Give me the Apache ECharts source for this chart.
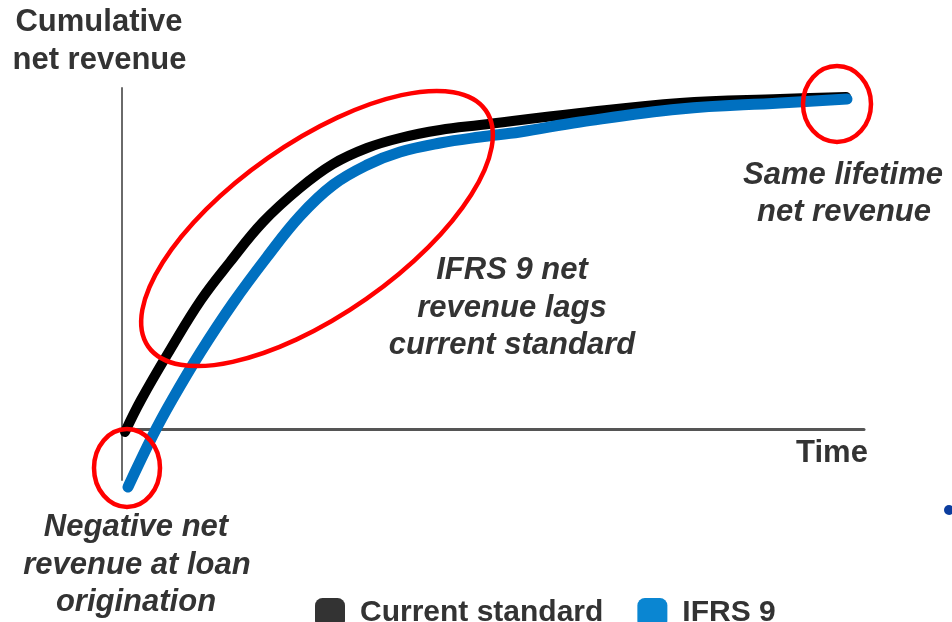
<!DOCTYPE html>
<html>
<head>
<meta charset="utf-8">
<script src="https://cdn.jsdelivr.net/npm/echarts@6/dist/echarts.min.js"></script>
<style>html,body{margin:0;padding:0;background:#fff;}#c{width:952px;height:622px;}</style>
</head>
<body>
<div id="c"></div>
<script>
// Time (x) and cumulative net revenue (y) (arbitrary units)
const seriesNames = ['Current standard', 'IFRS 9'];
const currentTime    = [3, 19, 48, 79, 108, 141, 178, 211, 245, 278, 318, 358, 458, 558, 658, 724];
const currentRevenue = [-3, 29, 79, 129, 167, 207, 241, 265, 281, 291, 299, 304, 316, 326, 330, 332];
const ifrsTime    = [6, 31, 50, 78, 111, 145, 178, 211, 245, 278, 318, 358, 398, 458, 558, 658, 725];
const ifrsRevenue = [-58, -6, 29, 76, 126, 172, 213, 244, 264, 277, 286, 292, 297, 307, 320, 326, 330];
const axisNames = ['Time', 'Cumulative\nnet revenue'];

const FONT = '"Liberation Sans", Arial, sans-serif';
const zip = (a, b) => a.map((v, i) => [v, b[i]]);

function txt(text, x, baseline, italic) {
  return {
    type: 'text', z: 100,
    style: {
      text: text, x: x, y: baseline - 10,
      font: (italic ? 'italic ' : '') + 'bold 31px ' + FONT,
      fill: '#333333',
      align: 'center', verticalAlign: 'middle',
      textAlign: 'center', textVerticalAlign: 'middle'
    }
  };
}
function ell(cx, cy, rx, ry, rot) {
  return {
    type: 'ellipse', z: 90,
    x: cx, y: cy, rotation: (rot || 0) * Math.PI / 180,
    shape: { cx: 0, cy: 0, rx: rx, ry: ry },
    style: { fill: 'none', stroke: '#ff0000', lineWidth: 4.5 }
  };
}

const axisTitle = axisNames[1].split('\n');

const chart = echarts.init(document.getElementById('c'));
chart.setOption({
  animation: false,
  backgroundColor: '#ffffff',
  grid: { left: 122, top: 88, width: 742, height: 392 },
  xAxis: {
    type: 'value', min: 0, max: 742,
    axisLine: { show: true, onZero: true, lineStyle: { color: '#555555', width: 3 } },
    axisTick: { show: false }, axisLabel: { show: false }, splitLine: { show: false }
  },
  yAxis: {
    type: 'value', min: -51, max: 341,
    axisLine: { show: true, onZero: false, lineStyle: { color: '#6a6a6a', width: 2 } },
    axisTick: { show: false }, axisLabel: { show: false }, splitLine: { show: false }
  },
  legend: {
    left: 310, top: 593,
    icon: 'roundRect', itemWidth: 30, itemHeight: 30, itemGap: 34,
    textStyle: { fontFamily: FONT, fontSize: 30, fontWeight: 'bold', color: '#333333', padding: [0, 0, 0, 10] },
    data: [
      { name: seriesNames[0], itemStyle: { color: '#333333' } },
      { name: seriesNames[1], itemStyle: { color: '#0a86d2' } }
    ]
  },
  series: [
    {
      name: seriesNames[0], type: 'line', smooth: 0.4, showSymbol: false, clip: false,
      data: zip(currentTime, currentRevenue),
      lineStyle: { color: '#000000', width: 10, cap: 'round', join: 'round' },
      itemStyle: { color: '#000000' }
    },
    {
      name: seriesNames[1], type: 'line', smooth: 0.4, showSymbol: false, clip: false,
      data: zip(ifrsTime, ifrsRevenue),
      lineStyle: { color: '#0070c0', width: 11, cap: 'round', join: 'round' },
      itemStyle: { color: '#0070c0' }
    }
  ],
  graphic: [
    txt(axisTitle[0], 99, 32, false),
    txt(axisTitle[1], 99.5, 70, false),
    txt(axisNames[0], 832, 463, false),
    txt('IFRS 9 net', 512, 280, true),
    txt('revenue lags', 512, 318, true),
    txt('current standard', 512, 355, true),
    txt('Negative net', 136, 537, true),
    txt('revenue at loan', 137, 575, true),
    txt('origination', 136, 612, true),
    txt('Same lifetime', 843, 185, true),
    txt('net revenue', 844, 222, true),
    ell(127, 468, 33, 39, 0),
    ell(317, 228.5, 206, 86, 35),
    ell(837, 104, 34, 38, 0),
    { type: 'circle', z: 100, shape: { cx: 949, cy: 510, r: 5 }, style: { fill: '#0b3d9e' } }
  ]
});
</script>
</body>
</html>
